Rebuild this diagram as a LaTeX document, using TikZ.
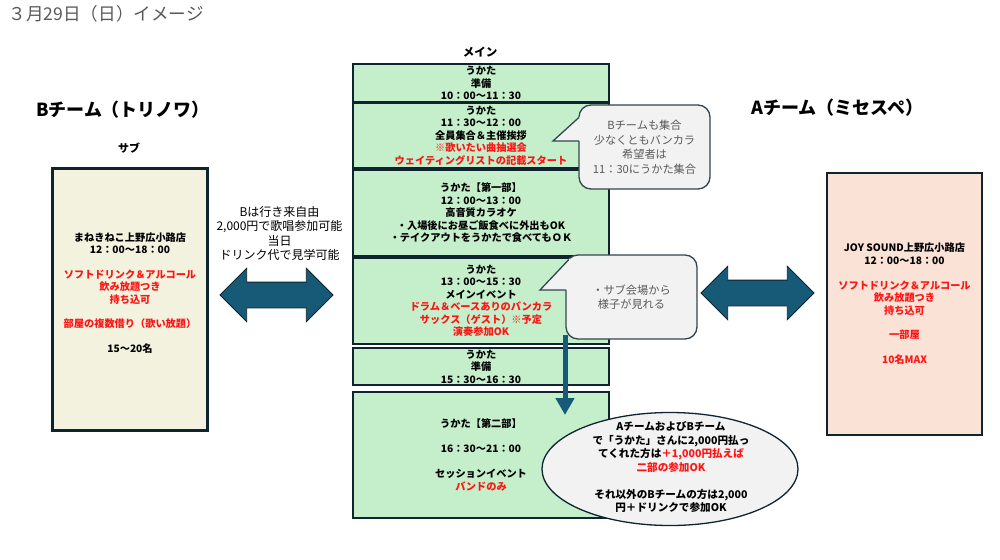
\documentclass[tikz,border=0pt]{standalone}
\usepackage{fontspec}
\setmainfont{Noto Sans CJK JP}
\usetikzlibrary{positioning, shapes.geometric, shapes.arrows, arrows.meta}

\definecolor{slotgreen}{RGB}{197,239,203}
\definecolor{edgenavy}{RGB}{16,36,48}
\definecolor{subcream}{RGB}{242,242,222}
\definecolor{mainpeach}{RGB}{251,226,214}
\definecolor{notegray}{RGB}{242,242,242}
\definecolor{notetext}{RGB}{89,89,89}
\definecolor{flowteal}{RGB}{22,90,120}
\definecolor{alertred}{RGB}{255,20,20}

\begin{document}
\begin{tikzpicture}[x=1pt, y=-1pt,
    slot/.style={draw=edgenavy, line width=2.1pt, fill=slotgreen, minimum width=256pt,
        align=center, inner sep=0pt, outer sep=0pt, font=\fontsize{10.2}{12.5}\selectfont\bfseries},
    room/.style={draw=edgenavy, line width=2.1pt, minimum width=155pt, minimum height=262pt,
        align=center, inner sep=0pt, outer sep=0pt, font=\fontsize{10.2}{12.4}\selectfont\bfseries},
    bubble/.style={draw=edgenavy!85, line width=1.3pt, fill=notegray, rounded corners=12pt,
        minimum width=131pt, minimum height=84pt, align=center, inner sep=0pt, text=notetext,
        font=\fontsize{11.2}{14.5}\selectfont},
    bubbleline/.style={draw=edgenavy!85, line width=1.3pt, line join=miter},
    bigarrow/.style={double arrow, draw=edgenavy, line width=0.8pt, fill=flowteal,
        double arrow head extend=13.8pt, minimum width=52.7pt, minimum height=113pt, inner sep=12.5pt},
    team/.style={font=\fontsize{18}{20}\selectfont\bfseries}]

\fill[white] (0,0) rectangle (1000,559);
\useasboundingbox (0,0) rectangle (1000,559);

\node[anchor=west, text=notetext, font=\fontsize{17.6}{19}\selectfont] (title) at (5,14) {３月29日（日）イメージ};

% main schedule
\node[font=\fontsize{11.5}{13}\selectfont\bfseries] (mainhead) at (480,52) {メイン};
\node[slot, minimum height=38pt] (prep1) at (481,83) {うかた\\準備\\10：00～11：30};
\node[slot, minimum height=65pt, below=1pt of prep1] (greet) {うかた\\11：30～12：00\\全員集合＆主催挨拶\\
    \textcolor{alertred}{※歌いたい曲抽選会}\\\textcolor{alertred}{ウェイティングリストの記載スタート}};
\node[slot, minimum height=86pt, below=2pt of greet] (part1) {うかた【第一部】\\12：00～13：00\\高音質カラオケ\\
    ・入場後にお昼ご飯食べに外出もOK\\・テイクアウトをうかたで食べてもＯＫ};
\node[slot, minimum height=86pt, below=2pt of part1] (event) {うかた\\13：00～15：30\\メインイベント\\
    \textcolor{alertred}{ドラム＆ベースありのバンカラ}\\\textcolor{alertred}{サックス（ゲスト）※予定}\\
    \textcolor{alertred}{演奏参加OK}};
\node[slot, minimum height=37pt, below=4pt of event] (prep2) {うかた\\準備\\15：30～16：30};
\node[slot, minimum height=126pt, below=7pt of prep2] (part2) {うかた【第二部】\\[12.5pt]16：30～21：00\\[12.5pt]
    セッションイベント\\\textcolor{alertred}{バンドのみ}};

% B team (sub)
\node[team] (bteam) at (123,110) {Bチーム（トリノワ）};
\node[font=\fontsize{11}{13}\selectfont\bfseries] (subhead) at (129,148) {サブ};
\node[room, fill=subcream] (maneki) at (130,299.5) {};
\node[align=center, font=\fontsize{10.2}{12.3}\selectfont\bfseries] (manekitext) at (130,293)
    {まねきねこ上野広小路店\\12：00～18：00\\[12.3pt]
    \textcolor{alertred}{ソフトドリンク＆アルコール}\\\textcolor{alertred}{飲み放題つき}\\\textcolor{alertred}{持ち込可}\\[12.3pt]
    \textcolor{alertred}{部屋の複数借り（歌い放題）}\\[12.3pt]15～20名};

\node[align=center, font=\fontsize{12}{14.5}\selectfont] (brule) at (279.5,233.5)
    {Bは行き来自由\\2,000円で歌唱参加可能\\当日\\ドリンク代で見学可能};
\node[bigarrow] (flowb) at (276.5,295) {};

% A team (main)
\node[team] (ateam) at (837.5,108) {Aチーム（ミセスペ）};
\node[room, fill=mainpeach] (joy) at (904.5,304) {JOY SOUND上野広小路店\\12：00～18：00\\[12.5pt]
    \textcolor{alertred}{ソフトドリンク＆アルコール}\\\textcolor{alertred}{飲み放題つき}\\\textcolor{alertred}{持ち込可}\\[12.5pt]
    \textcolor{alertred}{一部屋}\\[12.5pt]\textcolor{alertred}{10名MAX}};
\node[bigarrow] (flowa) at (757.5,293) {};

% callouts
\node[bubble] (gather) at (644.5,147) {Bチームも集合\\少なくともバンカラ\\希望者は\\11：30にうかた集合};
\fill[notegray] (553,141) -- (583,113.8) -- (583,141) -- cycle;
\draw[bubbleline] (579,117.4) -- (553,141) -- (579,141);

\node[bubble] (watch) at (631.5,297) {・サブ会場から\\様子が見れる};
\fill[notegray] (540,290) -- (570,258.3) -- (570,290) -- cycle;
\draw[bubbleline] (568.6,259.8) -- (540,290) -- (566,290);

\node[ellipse, draw=edgenavy, line width=1.3pt, fill=notegray, minimum width=256pt,
    minimum height=113pt, inner sep=0pt] (extra) at (670,469) {};
\node[align=center, font=\fontsize{10.6}{13.5}\selectfont\bfseries] (extratext) at (671,467)
    {AチームおよびBチーム\\で「うかた」さんに2,000円払っ\\てくれた方は\textcolor{alertred}{＋1,000円払えば}\\
    \textcolor{alertred}{二部の参加OK}\\[13.5pt]それ以外のBチームの方は2,000\\円＋ドリンクで参加OK};

\coordinate (dropa) at (565,335);
\coordinate (dropb) at (565,415);
\draw[flowteal, line width=5pt, -{Triangle[width=18pt,length=17pt]}] (dropa) -- (dropb);
\end{tikzpicture}
\end{document}
